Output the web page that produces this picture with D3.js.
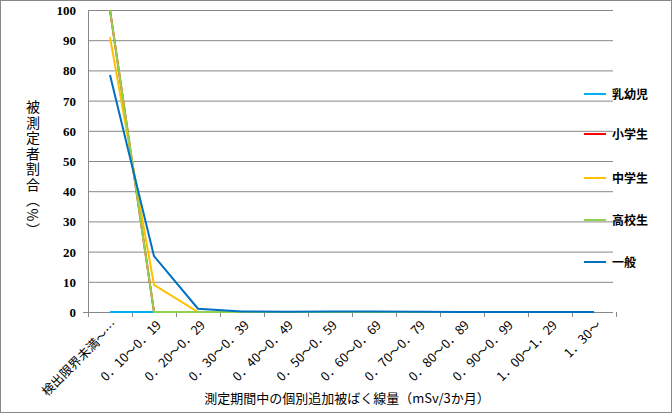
<!DOCTYPE html><html><head><meta charset="utf-8"><script src="https://cdn.jsdelivr.net/npm/d3@7"></script>
<style>body{margin:0}</style></head><body><svg id="c" width="672" height="413"></svg><script>
const categories=["検出限界未満～…","0．10～0．19","0．20～0．29","0．30～0．39","0．40～0．49","0．50～0．59","0．60～0．69","0．70～0．79","0．80～0．89","0．90～0．99","1．00～1．29","1．30～"];
const seriesNames=["乳幼児","小学生","中学生","高校生","一般"];
const colors=["#00B0F0","#FF0000","#FFC000","#92D050","#0070C0"];
const infant=[0,0,0,0,0,0,0,0,0,0,0,0];
const elementary=[100,0,0,0,0,0,0,0,0,0,0,0];
const junior=[91,9,0,0,0,0,0,0,0,0,0,0];
const high=[100,0,0,0,0,0,0,0,0,0,0,0];
const general=[78.5,18.5,1.1,0.2,0.1,0.15,0.15,0.1,0,0,0,0];
const yTicks=[0,10,20,30,40,50,60,70,80,90,100];
const data=[infant,elementary,junior,high,general];
const svg=d3.select("#c");
svg.append("rect").attr("x",0.5).attr("y",0.5).attr("width",671).attr("height",412).attr("fill","#fff").attr("stroke","#888");
const L=88,R=616,T=10,B=312;
const x=d3.scaleBand().domain(categories).range([L,R]);
const y=d3.scaleLinear().domain([0,100]).range([B,T]);
const g=svg.append("g");
yTicks.forEach(t=>{g.append("line").attr("x1",L).attr("x2",613).attr("y1",y(t)+0.5).attr("y2",y(t)+0.5).attr("stroke","#888");
 g.append("text").attr("x",L-12).attr("y",y(t)+5).attr("text-anchor","end").attr("font-family","Liberation Serif").attr("font-weight","bold").attr("font-size",13).text(t);});
g.append("line").attr("x1",L+0.5).attr("x2",L+0.5).attr("y1",T).attr("y2",B+5).attr("stroke","#888");
g.append("line").attr("x1",L-5).attr("x2",L).attr("y1",B+0.5).attr("y2",B+0.5).attr("stroke","#888");
d3.range(13).forEach(i=>{const xx=L+i*x.bandwidth();g.append("line").attr("x1",xx+0.5).attr("x2",xx+0.5).attr("y1",B).attr("y2",B+5).attr("stroke","#888");});
categories.forEach(c=>{const cx=x(c)+x.bandwidth()/2;
 g.append("text").attr("transform",`translate(${cx+8},${B+14}) rotate(-45)`).attr("text-anchor","end").attr("font-family","Noto Sans CJK JP").attr("font-size",12.5).text(c);});
const line=d3.line().x((d,i)=>x(categories[i])+x.bandwidth()/2).y(d=>y(d));
data.forEach((s,k)=>g.append("path").attr("d",line(s)).attr("fill","none").attr("stroke",colors[k]).attr("stroke-width",2));
seriesNames.forEach((n,k)=>{const ly=[94,134,178,220,262][k];
 g.append("line").attr("x1",584).attr("x2",606).attr("y1",ly).attr("y2",ly).attr("stroke",colors[k]).attr("stroke-width",2);
 g.append("text").attr("x",612).attr("y",ly+5).attr("font-family","Noto Sans CJK JP").attr("font-weight","bold").attr("font-size",12).text(n);});
svg.append("text").attr("x",347).attr("y",403).attr("text-anchor","middle").attr("font-family","Noto Sans CJK JP").attr("font-size",13).text("測定期間中の個別追加被ばく線量（mSv/3か月）");
svg.append("text").attr("font-family","Noto Sans CJK JP").attr("font-size",14).attr("letter-spacing",1.5).attr("writing-mode","vertical-rl").attr("x",33).attr("y",100).text("被測定者割合（%）");
</script></body></html>
